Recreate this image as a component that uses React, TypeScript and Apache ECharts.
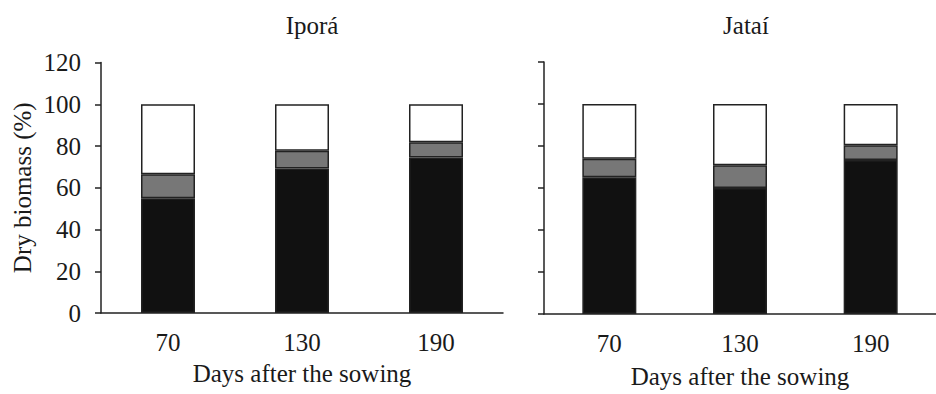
import React, { useEffect, useRef } from "react";
import * as echarts from "echarts";

const categories = ["70", "130", "190"];
const yTicks = [0, 20, 40, 60, 80, 100, 120];

const iporaStem = [55.0, 69.2, 74.5];
const iporaLeaf = [11.5, 8.5, 7.3];
const iporaRoot = [33.5, 22.3, 18.2];

const jataiStem = [65.1, 60.0, 73.3];
const jataiLeaf = [8.8, 10.8, 7.1];
const jataiRoot = [26.1, 29.2, 19.6];

const titles = ["Iporá", "Jataí"];
const xName = "Days after the sowing";
const yName = "Dry biomass (%)";

const FONT = "'Liberation Serif', 'Times New Roman', serif";
const TXT = "#1a1a1a";
const LINE = "#222";
const FS = 25;

export default function App() {
  const ref = useRef<HTMLDivElement>(null);
  useEffect(() => {
    document.body.style.margin = "0";
    const chart = echarts.init(ref.current!, null, { renderer: "svg" });
    const grids = [
      { left: 101, top: 62.5, width: 402, height: 250.5 },
      { left: 544, top: 62, width: 402, height: 253 },
    ];
    const xAxes = grids.map((_, i) => ({
      type: "category",
      gridIndex: i,
      data: categories,
      axisLine: { lineStyle: { color: LINE, width: 1.5 } },
      axisTick: { show: false },
      axisLabel: { color: TXT, fontFamily: FONT, fontSize: FS, margin: 17 },
      name: xName,
      nameLocation: "middle",
      nameGap: i === 0 ? 48 : 50,
      nameTextStyle: { color: TXT, fontFamily: FONT, fontSize: FS },
    }));
    const yAxes = grids.map((_, i) => ({
      type: "value",
      gridIndex: i,
      min: 0,
      max: 120,
      interval: 20,
      splitLine: { show: false },
      axisLine: { show: true, lineStyle: { color: LINE, width: 1.5 } },
      axisTick: { show: true, length: 6, lineStyle: { color: LINE, width: 1.5 } },
      axisLabel: {
        show: i === 0,
        color: TXT,
        fontFamily: FONT,
        fontSize: FS,
        margin: 20,
        formatter: (v: number) => (yTicks.includes(v) ? String(v) : ""),
      },
      name: i === 0 ? yName : "",
      nameLocation: "middle",
      nameGap: 66,
      nameTextStyle: { color: TXT, fontFamily: FONT, fontSize: FS },
    }));
    const seg = (data: number[], color: string, i: number) => ({
      type: "bar",
      xAxisIndex: i,
      yAxisIndex: i,
      stack: "s" + i,
      barWidth: 54,
      data,
      itemStyle: { color, borderColor: LINE, borderWidth: 1.5 },
    });
    chart.setOption({
      animation: false,
      backgroundColor: "#fff",
      title: [
        {
          text: titles[0],
          left: 307,
          top: 8,
          textAlign: "center",
          textStyle: { color: TXT, fontFamily: FONT, fontSize: FS, fontWeight: "normal" },
        },
        {
          text: titles[1],
          left: 741,
          top: 8,
          textAlign: "center",
          textStyle: { color: TXT, fontFamily: FONT, fontSize: FS, fontWeight: "normal" },
        },
      ],
      grid: grids,
      xAxis: xAxes,
      yAxis: yAxes,
      series: [
        seg(iporaStem, "#111111", 0),
        seg(iporaLeaf, "#777777", 0),
        seg(iporaRoot, "#ffffff", 0),
        seg(jataiStem, "#111111", 1),
        seg(jataiLeaf, "#777777", 1),
        seg(jataiRoot, "#ffffff", 1),
      ],
    });
    return () => chart.dispose();
  }, []);
  return <div ref={ref} style={{ width: 936, height: 394 }} />;
}
